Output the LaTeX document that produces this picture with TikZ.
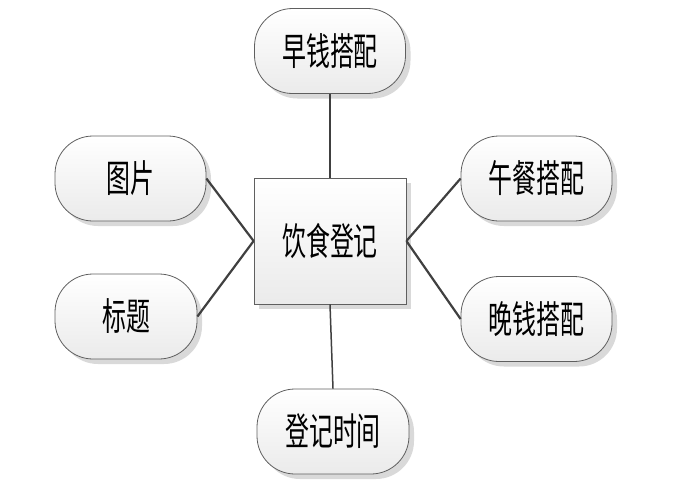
\documentclass[tikz,border=0pt]{standalone}
\usepackage{fontspec}
\newfontfamily\cjk[FakeStretch=0.63]{Noto Sans CJK SC}
\usepackage{tikz}
\usetikzlibrary{shadows}
\definecolor{BianKuang}{HTML}{5F5F5F}
\definecolor{XianTiao}{HTML}{404040}
\definecolor{YinYing}{HTML}{D9D9D9}
\tikzset{
  jiedian/.style  = {draw=BianKuang, line width=0.8pt, rounded corners=38pt,
                     top color=white, bottom color=black!8,
                     minimum width=151pt, minimum height=85pt, inner sep=0pt,
                     font=\cjk\fontsize{38}{38}\selectfont,
                     drop shadow={shadow xshift=5pt, shadow yshift=-5pt,
                                  fill=YinYing, opacity=1}},
  zhuti/.style    = {draw=BianKuang, line width=0.8pt,
                     top color=white, bottom color=black!8,
                     minimum width=152pt, minimum height=126pt, inner sep=0pt,
                     font=\cjk\fontsize{38}{38}\selectfont,
                     drop shadow={shadow xshift=5pt, shadow yshift=-5pt,
                                  fill=YinYing, opacity=1}},
  lianxian/.style = {draw=XianTiao, line width=2.2pt},
}

\begin{document}
\begin{tikzpicture}[x=1pt, y=-1pt]
  \useasboundingbox (0,0) rectangle (683,501);
  \node[zhuti] (zhongxin) at (330,241) {饮食登记};
  \node[jiedian] (zaocan) at (330,51) {早钱搭配};
  \node[jiedian] (tupian) at (130.5,178.5) {图片};
  \node[jiedian, minimum width=142pt] (biaoti) at (126,316.5) {标题};
  \node[jiedian] (wucan) at (536.5,178.5) {午餐搭配};
  \node[jiedian] (wancan) at (536.5,319) {晚钱搭配};
  \node[jiedian, minimum width=152pt] (shijian) at (333,431.5) {登记时间};
  \draw[lianxian] (zaocan) -- (zhongxin);
  \draw[lianxian] (tupian.east) -- (zhongxin.west);
  \draw[lianxian] (biaoti.east) -- (zhongxin.west);
  \draw[lianxian] (zhongxin.east) -- (wucan.west);
  \draw[lianxian] (zhongxin.east) -- (wancan.west);
  \draw[lianxian, line width=1.5pt] (zhongxin.south) -- (shijian.north);
\end{tikzpicture}
\end{document}
